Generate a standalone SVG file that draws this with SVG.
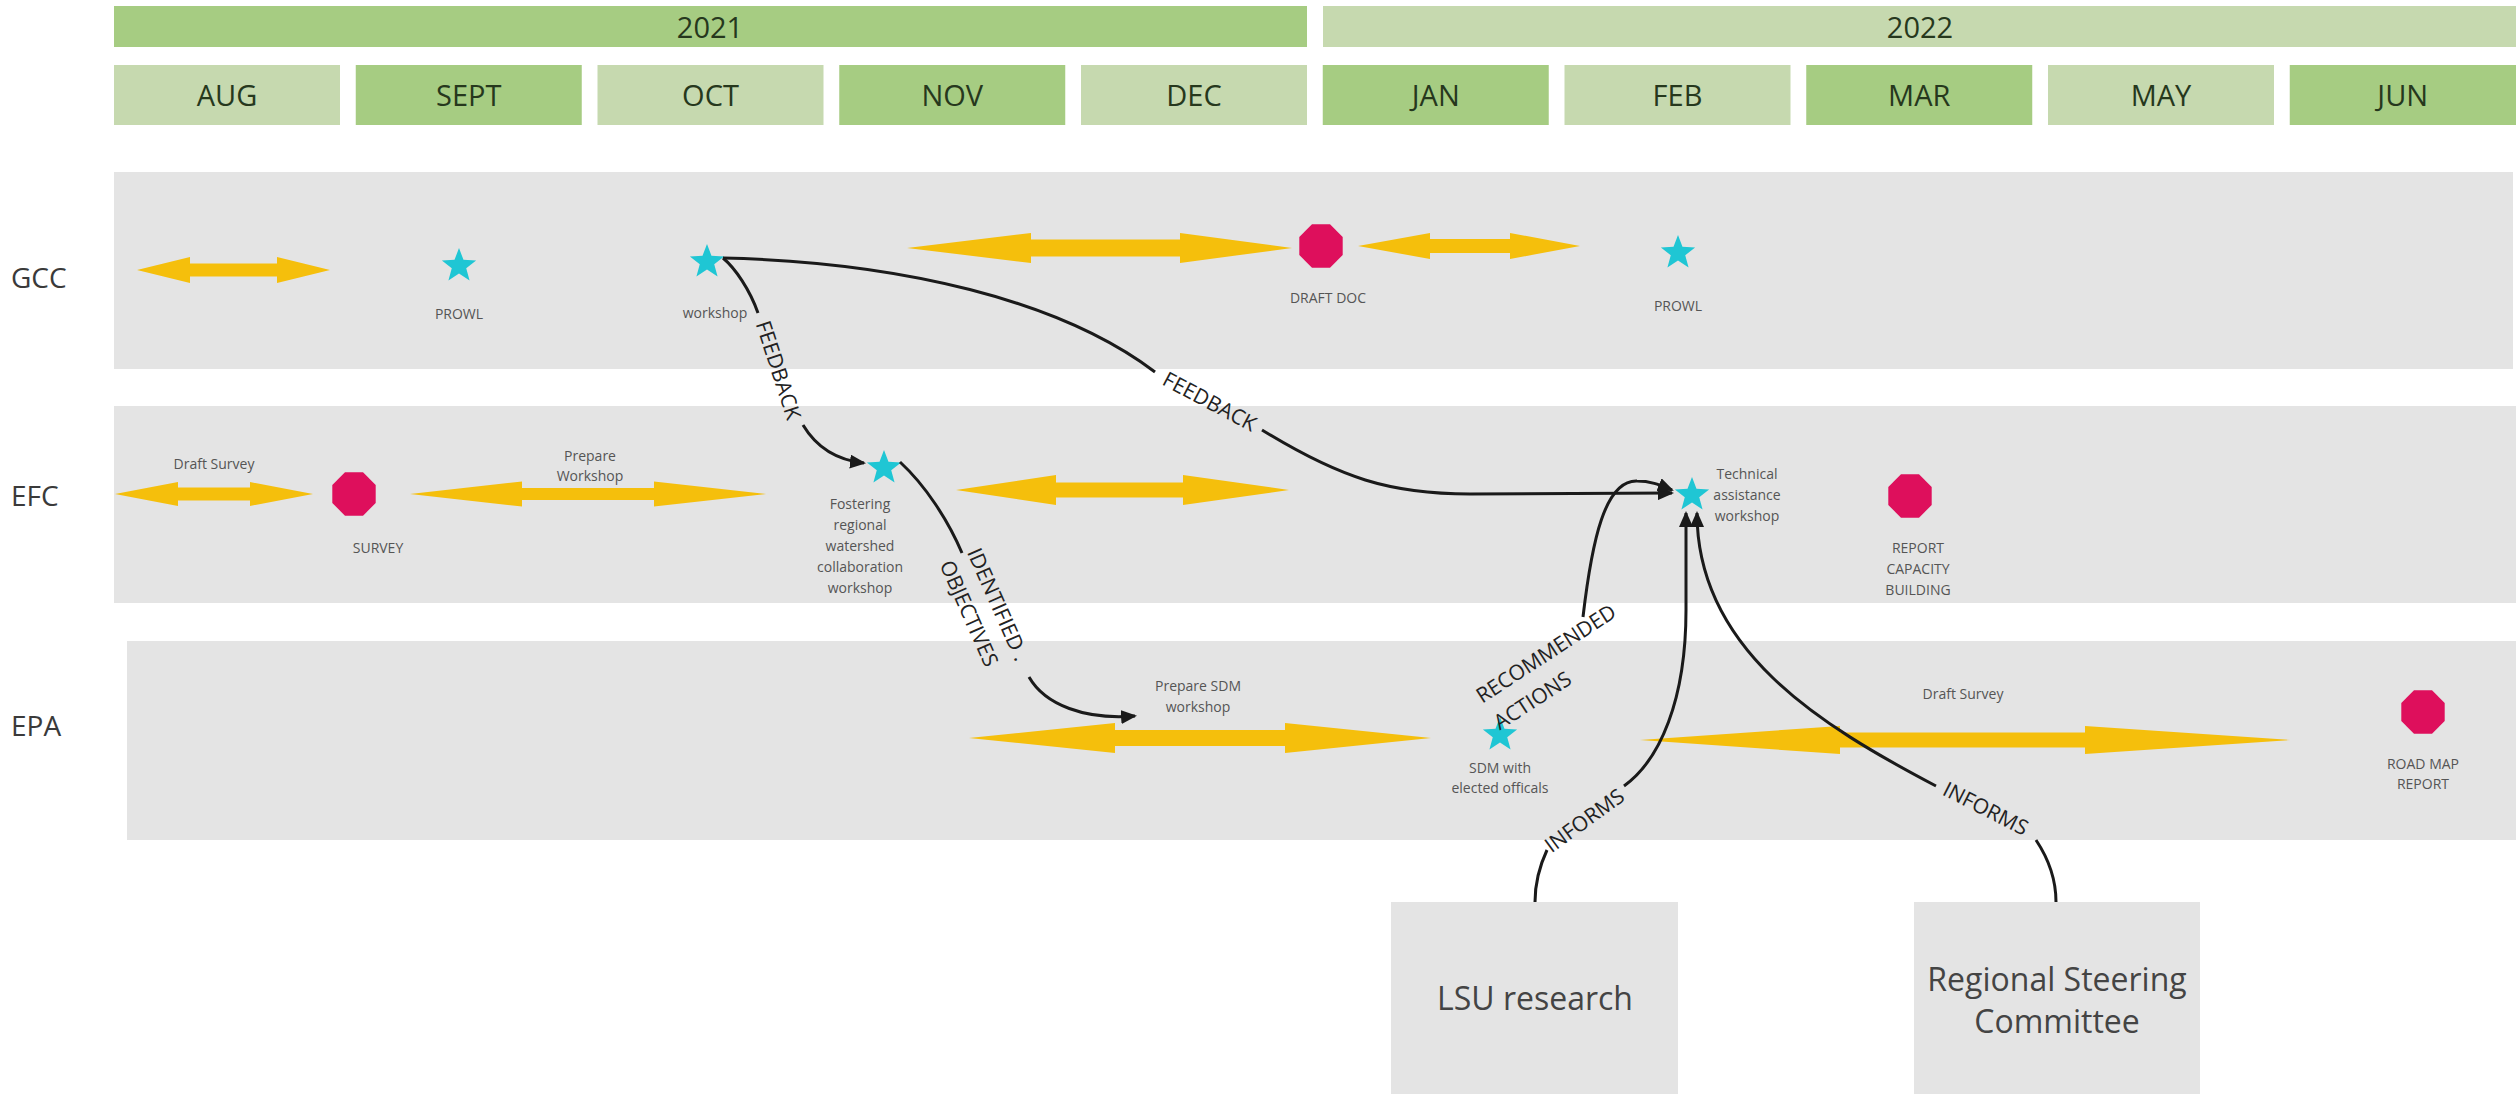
<svg xmlns="http://www.w3.org/2000/svg" width="2516" height="1094" viewBox="0 0 2516 1094">
<style>
.yd{fill:#a6cc82}
.yl{fill:#c6d9af}
.hd{font-family:"Open Sans","Liberation Sans",sans-serif;font-size:29px;fill:#26381d;text-anchor:middle;dominant-baseline:central}
.lane{fill:#e4e4e4}
.ll{font-family:"Open Sans","Liberation Sans",sans-serif;font-size:28px;fill:#3a3a3a;dominant-baseline:central}
.dbl{fill:#f5bf0c}
.star{fill:#1fc6d4}
.oct{fill:#de0f5c}
.sm{font-family:"Open Sans","Liberation Sans",sans-serif;font-size:14px;fill:#555;text-anchor:middle;dominant-baseline:central}
.cl{font-family:"Open Sans","Liberation Sans",sans-serif;font-size:21px;fill:#222;dominant-baseline:central}
.c{fill:none;stroke:#1a1a1a;stroke-width:3}
.bx{font-family:"Open Sans","Liberation Sans",sans-serif;font-size:32px;fill:#444;text-anchor:middle;dominant-baseline:central}
</style>
<defs>
<path id="star" d="M0,-18 L4.47,-6.15 L17.12,-5.56 L7.23,2.35 L10.58,14.56 L0,7.6 L-10.58,14.56 L-7.23,2.35 L-17.12,-5.56 L-4.47,-6.15 Z"/>
<path id="oct" d="M21.7,9 L9,21.7 L-9,21.7 L-21.7,9 L-21.7,-9 L-9,-21.7 L9,-21.7 L21.7,-9 Z"/>
<marker id="ah" markerUnits="userSpaceOnUse" markerWidth="16" markerHeight="14" refX="14" refY="7" orient="auto">
<path d="M0,0 L16,7 L0,14 Z" fill="#1a1a1a"/>
</marker>
</defs>
<rect width="2516" height="1094" fill="#ffffff"/>

<g id="header">
<rect class="yd" x="114" y="6" width="1193" height="41"/>
<text class="hd" x="710" y="26">2021</text>
<rect class="yl" x="1323" y="6" width="1193" height="41"/>
<text class="hd" x="1920" y="26">2022</text>
<rect class="yl" x="114" y="65" width="226" height="60"/><text class="hd" x="227" y="94">AUG</text>
<rect class="yd" x="355.75" y="65" width="226" height="60"/><text class="hd" x="468.75" y="94">SEPT</text>
<rect class="yl" x="597.5" y="65" width="226" height="60"/><text class="hd" x="710.5" y="94">OCT</text>
<rect class="yd" x="839.25" y="65" width="226" height="60"/><text class="hd" x="952.25" y="94">NOV</text>
<rect class="yl" x="1081" y="65" width="226" height="60"/><text class="hd" x="1194" y="94">DEC</text>
<rect class="yd" x="1322.75" y="65" width="226" height="60"/><text class="hd" x="1435.75" y="94">JAN</text>
<rect class="yl" x="1564.5" y="65" width="226" height="60"/><text class="hd" x="1677.5" y="94">FEB</text>
<rect class="yd" x="1806.25" y="65" width="226" height="60"/><text class="hd" x="1919.25" y="94">MAR</text>
<rect class="yl" x="2048" y="65" width="226" height="60"/><text class="hd" x="2161" y="94">MAY</text>
<rect class="yd" x="2289.75" y="65" width="226.25" height="60"/><text class="hd" x="2402.75" y="94">JUN</text>
</g>

<g id="lane-gcc">
<rect class="lane" x="114" y="172" width="2399" height="197"/>
<text class="ll" x="11" y="277">GCC</text>
</g>
<g id="lane-efc">
<rect class="lane" x="114" y="406" width="2402" height="197"/>
<text class="ll" x="11" y="495">EFC</text>
</g>
<g id="lane-epa">
<rect class="lane" x="127" y="641" width="2389" height="199"/>
<text class="ll" x="11" y="725">EPA</text>
</g>

<g id="gcc-arrow-1"><polygon class="dbl" points="137,270 190,257 190,263.5 277,263.5 277,257 330,270 277,283 277,276.5 190,276.5 190,283"/></g>
<g id="gcc-prowl-1"><use href="#star" class="star" x="459" y="266"/><text class="sm" x="459" y="313">PROWL</text></g>
<g id="gcc-workshop"><use href="#star" class="star" x="707" y="262"/><text class="sm" x="715" y="312">workshop</text></g>
<g id="gcc-arrow-2"><polygon class="dbl" points="907,248 1031,233 1031,239.5 1180,239.5 1180,233 1292,248 1180,263 1180,256.5 1031,256.5 1031,263"/></g>
<g id="gcc-draft-doc"><use href="#oct" class="oct" x="1321" y="246"/><text class="sm" x="1328" y="297">DRAFT DOC</text></g>
<g id="gcc-arrow-3"><polygon class="dbl" points="1358,246 1430,233 1430,239 1510,239 1510,233 1580,246 1510,259 1510,253 1430,253 1430,259"/></g>
<g id="gcc-prowl-2"><use href="#star" class="star" x="1678" y="253"/><text class="sm" x="1678" y="305">PROWL</text></g>

<g id="efc-draft-survey"><polygon class="dbl" points="115,494 178,482 178,487.5 250,487.5 250,482 313,494 250,506 250,500.5 178,500.5 178,506"/><text class="sm" x="214" y="463">Draft Survey</text></g>
<g id="efc-survey"><use href="#oct" class="oct" x="354" y="494"/><text class="sm" x="378" y="547">SURVEY</text></g>
<g id="efc-prepare-workshop"><polygon class="dbl" points="410,494 522,481.5 522,488 654,488 654,481.5 766,494 654,506.5 654,500 522,500 522,506.5"/><text class="sm" x="590" y="455">Prepare</text><text class="sm" x="590" y="475">Workshop</text></g>
<g id="efc-fostering"><use href="#star" class="star" x="884" y="468"/>
<text class="sm" x="860" y="503">Fostering</text><text class="sm" x="860" y="524">regional</text><text class="sm" x="860" y="545">watershed</text><text class="sm" x="860" y="566">collaboration</text><text class="sm" x="860" y="587">workshop</text></g>
<g id="efc-arrow-3"><polygon class="dbl" points="956,490 1056,475 1056,482.5 1183,482.5 1183,475 1289,490 1183,505 1183,497.5 1056,497.5 1056,505"/></g>
<g id="efc-technical"><use href="#star" class="star" x="1692" y="495"/>
<text class="sm" x="1747" y="473">Technical</text><text class="sm" x="1747" y="494">assistance</text><text class="sm" x="1747" y="515">workshop</text></g>
<g id="efc-report"><use href="#oct" class="oct" x="1910" y="496"/>
<text class="sm" x="1918" y="547">REPORT</text><text class="sm" x="1918" y="568">CAPACITY</text><text class="sm" x="1918" y="589">BUILDING</text></g>

<g id="epa-prepare-sdm"><polygon class="dbl" points="969,738 1115,723 1115,730 1285,730 1285,723 1431,738 1285,753 1285,746 1115,746 1115,753"/>
<text class="sm" x="1198" y="685">Prepare SDM</text><text class="sm" x="1198" y="706">workshop</text></g>
<g id="epa-sdm"><use href="#star" class="star" x="1500" y="735"/>
<text class="sm" x="1500" y="767">SDM with</text><text class="sm" x="1500" y="787">elected officals</text></g>
<g id="epa-draft-survey"><polygon class="dbl" points="1640,740 1840,726 1840,732.5 2085,732.5 2085,726 2290,740 2085,754 2085,747.5 1840,747.5 1840,754"/>
<text class="sm" x="1963" y="693">Draft Survey</text></g>
<g id="epa-road-map"><use href="#oct" class="oct" x="2423" y="712"/>
<text class="sm" x="2423" y="763">ROAD MAP</text><text class="sm" x="2423" y="783">REPORT</text></g>

<g id="box-lsu"><rect class="lane" x="1391" y="902" width="287" height="192"/><text class="bx" x="1535" y="997">LSU research</text></g>
<g id="box-rsc"><rect class="lane" x="1914" y="902" width="286" height="192"/><text class="bx" x="2057" y="978">Regional Steering</text><text class="bx" x="2057" y="1020">Committee</text></g>

<g id="connectors">
<path class="c" d="M723,258 C735,268 750,290 758,313"/>
<path class="c" d="M803,425 C815,445 835,460 864,463" marker-end="url(#ah)"/>
<text class="cl" text-anchor="middle" transform="translate(779,370) rotate(72)">FEEDBACK</text>

<path class="c" d="M723,258 C900,262 1060,300 1155,372"/>
<path class="c" d="M1262,430 C1340,478 1390,494 1470,494 L1672,493" marker-end="url(#ah)"/>
<text class="cl" text-anchor="middle" transform="translate(1210,401) rotate(28)">FEEDBACK</text>

<path class="c" d="M900,462 C925,485 948,520 962,553"/>
<path class="c" d="M1029,677 C1045,705 1085,720 1135,716" marker-end="url(#ah)"/>
<g transform="translate(974,549) rotate(66)"><text class="cl" x="0" y="0">IDENTIFIED .</text><text class="cl" x="0" y="30">OBJECTIVES</text></g>

<path class="c" d="M1583,617 C1592,540 1605,480 1637,481 C1652,481 1662,486 1672,490" marker-end="url(#ah)"/>
<g transform="translate(1478,697) rotate(-33)"><text class="cl" x="0" y="0">RECOMMENDED</text><text class="cl" x="0" y="32">ACTIONS</text></g>

<path class="c" d="M1535,902 C1535,885 1540,865 1547,850"/>
<path class="c" d="M1624,786 C1660,760 1686,700 1686,610 L1686,513" marker-end="url(#ah)"/>
<text class="cl" text-anchor="middle" transform="translate(1584,820) rotate(-36)">INFORMS</text>

<path class="c" d="M2056,902 C2056,880 2048,858 2036,840"/>
<path class="c" d="M1936,786 C1820,725 1697,650 1697,513" marker-end="url(#ah)"/>
<text class="cl" text-anchor="middle" transform="translate(1986,808) rotate(27)">INFORMS</text>
</g>
</svg>
